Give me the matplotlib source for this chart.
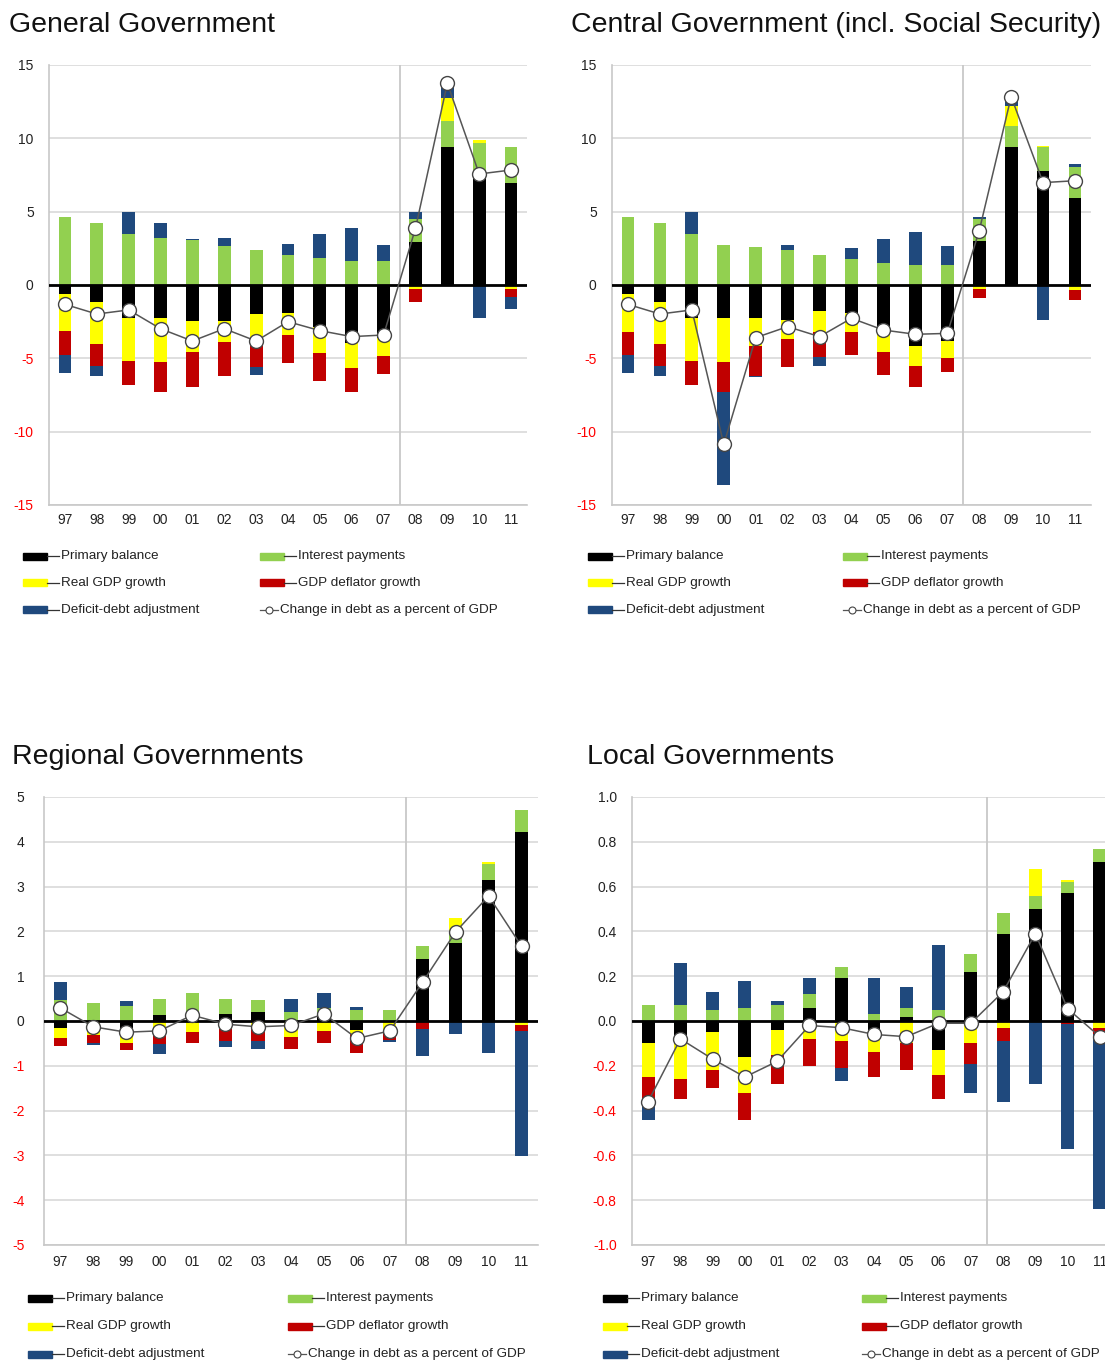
import matplotlib
matplotlib.use("Agg")
import matplotlib.pyplot as plt
from matplotlib.patches import Rectangle
from matplotlib.lines import Line2D

plt.rcParams['font.family'] = ['Liberation Sans', 'DejaVu Sans']

years = ['97', '98', '99', '00', '01', '02', '03', '04', '05', '06', '07', '08', '09', '10', '11']

series_names = ['Primary balance', 'Interest payments', 'Real GDP growth',
                'GDP deflator growth', 'Deficit-debt adjustment']
line_name = 'Change in debt as a percent of GDP'

# General Government
gg_primary = [-0.64, -1.14, -2.27, -2.27, -2.45, -2.45, -1.98, -1.93, -2.84, -3.93, -3.64, 2.93, 9.43, 7.61, 6.98]
gg_interest = [4.66, 4.20, 3.48, 3.23, 3.07, 2.68, 2.39, 2.05, 1.82, 1.64, 1.64, 1.55, 1.73, 2.09, 2.45]
gg_real = [-2.50, -2.88, -2.91, -3.00, -2.12, -1.41, -2.04, -1.50, -1.82, -1.75, -1.18, -0.30, 1.57, 0.19, -0.27]
gg_deflator = [-1.63, -1.50, -1.64, -2.05, -2.41, -2.34, -1.59, -1.87, -1.89, -1.64, -1.27, -0.88, 0.0, -0.05, -0.53]
gg_dda = [-1.25, -0.68, 1.52, 0.98, 0.07, 0.50, -0.55, 0.75, 1.63, 2.22, 1.09, 0.52, 1.02, -2.22, -0.84]
gg_change = [-1.32, -1.98, -1.70, -2.98, -3.82, -2.98, -3.82, -2.50, -3.11, -3.52, -3.41, 3.86, 13.75, 7.57, 7.84]

# Central Government (incl. Social Security)
cg_primary = [-0.64, -1.14, -2.27, -2.27, -2.27, -2.39, -1.75, -1.93, -2.84, -4.14, -3.82, 3.02, 9.39, 7.77, 5.91]
cg_interest = [4.66, 4.20, 3.48, 2.73, 2.61, 2.39, 2.05, 1.75, 1.52, 1.36, 1.36, 1.46, 1.45, 1.62, 2.11]
cg_real = [-2.54, -2.88, -2.91, -3.00, -1.87, -1.27, -1.43, -1.25, -1.75, -1.38, -1.13, -0.27, 1.36, 0.09, -0.34]
cg_deflator = [-1.59, -1.50, -1.64, -2.05, -2.06, -1.95, -1.75, -1.59, -1.55, -1.41, -0.96, -0.64, 0.0, 0.0, -0.68]
cg_dda = [-1.25, -0.68, 1.52, -6.32, -0.10, 0.34, -0.59, 0.80, 1.59, 2.23, 1.32, 0.18, 0.64, -2.39, 0.21]
cg_change = [-1.32, -1.98, -1.70, -10.86, -3.59, -2.84, -3.52, -2.27, -3.07, -3.36, -3.30, 3.70, 12.84, 6.98, 7.11]

# Regional Governments
rg_primary = [-0.16, 0.0, -0.17, 0.13, 0.20, 0.15, 0.20, 0.0, 0.08, -0.21, 0.0, 1.39, 1.74, 3.14, 4.22]
rg_interest = [0.46, 0.40, 0.33, 0.37, 0.43, 0.33, 0.26, 0.20, 0.22, 0.24, 0.24, 0.28, 0.25, 0.37, 0.48]
rg_real = [-0.23, -0.32, -0.32, -0.32, -0.25, -0.17, -0.13, -0.36, -0.22, -0.07, -0.21, -0.03, 0.31, 0.03, -0.10]
rg_deflator = [-0.17, -0.17, -0.15, -0.20, -0.24, -0.28, -0.32, -0.26, -0.27, -0.43, -0.22, -0.14, 0.0, -0.01, -0.12]
rg_dda = [0.41, -0.04, 0.11, -0.21, 0.0, -0.12, -0.17, 0.30, 0.33, 0.07, -0.04, -0.62, -0.30, -0.70, -2.80]
rg_change = [0.29, -0.13, -0.25, -0.22, 0.13, -0.07, -0.13, -0.10, 0.16, -0.39, -0.22, 0.87, 1.99, 2.79, 1.67]

# Local Governments
lg_primary = [-0.10, -0.08, -0.05, -0.16, -0.04, 0.06, 0.19, -0.04, 0.02, -0.13, 0.22, 0.39, 0.50, 0.57, 0.71]
lg_interest = [0.07, 0.07, 0.05, 0.06, 0.07, 0.06, 0.05, 0.03, 0.04, 0.05, 0.08, 0.09, 0.06, 0.05, 0.06]
lg_real = [-0.15, -0.18, -0.17, -0.16, -0.11, -0.08, -0.09, -0.10, -0.10, -0.11, -0.10, -0.03, 0.12, 0.01, -0.03]
lg_deflator = [-0.10, -0.09, -0.08, -0.12, -0.13, -0.12, -0.12, -0.11, -0.12, -0.11, -0.09, -0.06, 0.0, -0.015, -0.03]
lg_dda = [-0.09, 0.19, 0.08, 0.12, 0.02, 0.07, -0.06, 0.16, 0.09, 0.29, -0.13, -0.27, -0.28, -0.555, -0.78]
lg_change = [-0.36, -0.08, -0.17, -0.25, -0.18, -0.02, -0.03, -0.06, -0.07, -0.01, -0.01, 0.13, 0.39, 0.055, -0.07]

colors = ['#000000', '#92D050', '#FFFF00', '#C00000', '#1F497D']

W, H = 1105, 1364
fig = plt.figure(figsize=(W / 100, H / 100), dpi=100)


def axes_px(left, top, right, bottom):
    return fig.add_axes([left / W, 1 - bottom / H, (right - left) / W, (bottom - top) / H])


def draw_panel(ax, comps, change, ylim, yticks, ylabels, ypad, xpad):
    x = list(range(len(years)))
    pos = [0.0] * len(x)
    neg = [0.0] * len(x)
    for vals, c in zip(comps, colors):
        bottoms = []
        for i, v in enumerate(vals):
            if v >= 0:
                bottoms.append(pos[i])
                pos[i] += v
            else:
                bottoms.append(neg[i])
                neg[i] += v
        ax.bar(x, vals, bottom=bottoms, width=0.4, color=c, zorder=3, linewidth=0)
    ax.plot(x, change, color='#555555', lw=1.1, marker='o', ms=10,
            mfc='white', mec='#444444', mew=1.0, zorder=6)
    ax.axhline(0, color='black', lw=2, zorder=5)
    ax.axvline(10.5, color='#C8C8C8', lw=1.3, zorder=1)
    ax.set_xlim(-0.5, 14.5)
    ax.set_ylim(*ylim)
    ax.set_yticks(yticks)
    ax.set_yticklabels(ylabels)
    for t, v in zip(ax.get_yticklabels(), yticks):
        t.set_color('#FF0000' if v < 0 else '#222222')
    ax.set_xticks(x)
    ax.set_xticklabels(years)
    ax.tick_params(axis='y', length=0, pad=ypad, labelsize=10)
    ax.tick_params(axis='x', length=0, pad=xpad, labelsize=10, labelcolor='#222222')
    ax.grid(axis='y', color='#D6D6D6', lw=1.1, zorder=0)
    ax.set_axisbelow(True)
    for s in ['top', 'right']:
        ax.spines[s].set_visible(False)
    for s in ['left', 'bottom']:
        ax.spines[s].set_color('#C8C8C8')
        ax.spines[s].set_linewidth(1.2)


def draw_legend(col1, col2, rows, patch_w=24, dash_w=12):
    entries = [(col1, rows[0], 0), (col2, rows[0], 1), (col1, rows[1], 2),
               (col2, rows[1], 3), (col1, rows[2], 4)]
    for xp, yp, k in entries:
        fig.add_artist(Rectangle(((xp) / W, 1 - (yp + 3.5) / H), patch_w / W, 7 / H,
                                 color=colors[k], transform=fig.transFigure))
        fig.add_artist(Line2D([(xp + patch_w) / W, (xp + patch_w + dash_w) / W],
                              [1 - yp / H, 1 - yp / H], color='#333333', lw=0.9,
                              transform=fig.transFigure))
        fig.text((xp + patch_w + dash_w + 2) / W, 1 - yp / H, series_names[k],
                 fontsize=9.7, color='#222222', va='center', ha='left')
    yp = rows[2]
    fig.add_artist(Line2D([col2 / W, (col2 + 18) / W], [1 - yp / H, 1 - yp / H],
                          color='#555555', lw=0.9, transform=fig.transFigure))
    fig.add_artist(Line2D([(col2 + 9) / W], [1 - yp / H], marker='o', ms=5,
                          mfc='white', mec='#444444', mew=0.8, lw=0,
                          transform=fig.transFigure))
    fig.text((col2 + 20) / W, 1 - yp / H, line_name, fontsize=9.7, color='#222222',
             va='center', ha='left')


def title(x, y, text):
    fig.text(x / W, 1 - y / H, text, fontsize=20.5, color='#111111', va='center', ha='left')


yt1 = [-15, -10, -5, 0, 5, 10, 15]
yl1 = ['-15', '-10', '-5', '0', '5', '10', '15']
yt3 = [-5, -4, -3, -2, -1, 0, 1, 2, 3, 4, 5]
yl3 = [str(v) for v in yt3]
yt4 = [-1.0, -0.8, -0.6, -0.4, -0.2, 0.0, 0.2, 0.4, 0.6, 0.8, 1.0]
yl4 = ['%.1f' % v for v in yt4]

ax1 = axes_px(49, 65, 527, 505)
draw_panel(ax1, [gg_primary, gg_interest, gg_real, gg_deflator, gg_dda], gg_change,
           (-15, 15), yt1, yl1, 11, 6)
title(9, 25, 'General Government')
draw_legend(23, 260, [556, 583, 610])

ax2 = axes_px(612, 65, 1091, 505)
draw_panel(ax2, [cg_primary, cg_interest, cg_real, cg_deflator, cg_dda], cg_change,
           (-15, 15), yt1, yl1, 11, 6)
title(571, 25, 'Central Government (incl. Social Security)')
draw_legend(588, 843, [556, 583, 610])

ax3 = axes_px(44, 797, 538, 1245)
draw_panel(ax3, [rg_primary, rg_interest, rg_real, rg_deflator, rg_dda], rg_change,
           (-5, 5), yt3, yl3, 14, 7.5)
title(12, 757, 'Regional Governments')
draw_legend(28, 288, [1298, 1326, 1354])

ax4 = axes_px(632, 797, 1116, 1245)
draw_panel(ax4, [lg_primary, lg_interest, lg_real, lg_deflator, lg_dda], lg_change,
           (-1.0, 1.0), yt4, yl4, 11, 7.5)
title(587, 757, 'Local Governments')
draw_legend(603, 862, [1298, 1326, 1354])

fig.savefig('out.png', dpi=100)
